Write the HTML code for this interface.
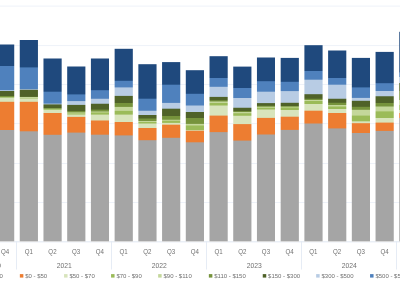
<!DOCTYPE html>
<html><head><meta charset="utf-8"><style>
html,body{margin:0;padding:0;background:#fff;width:400px;height:283px;overflow:hidden}
svg{display:block;will-change:transform}
text{font-family:"Liberation Sans",sans-serif;fill:#707070}
.q text{letter-spacing:0}
.q text{font-size:6.7px}
.l text{font-size:6px}
</style></head><body>
<svg width="400" height="283" viewBox="0 0 400 283">
<rect width="400" height="283" fill="#fff"/>
<rect x="0" y="5.6" width="400" height="1" fill="#EEF2F9"/><rect x="0" y="45.1" width="400" height="1" fill="#EEF2F9"/><rect x="0" y="84" width="400" height="1" fill="#EEF2F9"/><rect x="0" y="123.1" width="400" height="1" fill="#EEF2F9"/><rect x="0" y="163" width="400" height="1" fill="#EEF2F9"/><rect x="0" y="202" width="400" height="1" fill="#EEF2F9"/>
<mask id="c0" maskUnits="userSpaceOnUse" x="0" y="0" width="400" height="283"><rect x="-3.97" y="0" width="18.2" height="241.6" fill="#fff"/></mask><g mask="url(#c0)"><rect x="-4" y="44.5" width="20" height="197.1" fill="#1F497D"/><rect x="-4" y="66" width="20" height="175.6" fill="#4F81BD"/><rect x="-4" y="90.2" width="20" height="151.4" fill="#B8CCE4"/><rect x="-4" y="91" width="20" height="150.6" fill="#4F6228"/><rect x="-4" y="96" width="20" height="145.6" fill="#76933C"/><rect x="-4" y="97.2" width="20" height="144.4" fill="#C4D79B"/><rect x="-4" y="97.6" width="20" height="144" fill="#9BBB59"/><rect x="-4" y="97.9" width="20" height="143.7" fill="#D8E4BC"/><rect x="-4" y="101.8" width="20" height="139.8" fill="#ED7D31"/><rect x="-4" y="130" width="20" height="111.6" fill="#A5A5A5"/></g><mask id="c1" maskUnits="userSpaceOnUse" x="0" y="0" width="400" height="283"><rect x="19.75" y="0" width="18.2" height="241.6" fill="#fff"/></mask><g mask="url(#c1)"><rect x="18" y="40" width="20" height="201.6" fill="#1F497D"/><rect x="18" y="67.4" width="20" height="174.2" fill="#4F81BD"/><rect x="18" y="89.2" width="20" height="152.4" fill="#B8CCE4"/><rect x="18" y="89.8" width="20" height="151.8" fill="#4F6228"/><rect x="18" y="96.8" width="20" height="144.8" fill="#76933C"/><rect x="18" y="97" width="20" height="144.6" fill="#C4D79B"/><rect x="18" y="98.2" width="20" height="143.4" fill="#9BBB59"/><rect x="18" y="98.5" width="20" height="143.1" fill="#D8E4BC"/><rect x="18" y="101.8" width="20" height="139.8" fill="#ED7D31"/><rect x="18" y="131.3" width="20" height="110.3" fill="#A5A5A5"/></g><mask id="c2" maskUnits="userSpaceOnUse" x="0" y="0" width="400" height="283"><rect x="43.47" y="0" width="18.2" height="241.6" fill="#fff"/></mask><g mask="url(#c2)"><rect x="42" y="58.5" width="20" height="183.1" fill="#1F497D"/><rect x="42" y="91.7" width="20" height="149.9" fill="#4F81BD"/><rect x="42" y="103.6" width="20" height="138" fill="#B8CCE4"/><rect x="42" y="104.4" width="20" height="137.2" fill="#4F6228"/><rect x="42" y="108" width="20" height="133.6" fill="#76933C"/><rect x="42" y="108.8" width="20" height="132.8" fill="#C4D79B"/><rect x="42" y="109.3" width="20" height="132.3" fill="#9BBB59"/><rect x="42" y="109.9" width="20" height="131.7" fill="#D8E4BC"/><rect x="42" y="113" width="20" height="128.6" fill="#ED7D31"/><rect x="42" y="134.8" width="20" height="106.8" fill="#A5A5A5"/></g><mask id="c3" maskUnits="userSpaceOnUse" x="0" y="0" width="400" height="283"><rect x="67.19" y="0" width="18.2" height="241.6" fill="#fff"/></mask><g mask="url(#c3)"><rect x="66" y="66.5" width="20" height="175.1" fill="#1F497D"/><rect x="66" y="94.4" width="20" height="147.2" fill="#4F81BD"/><rect x="66" y="101.1" width="20" height="140.5" fill="#B8CCE4"/><rect x="66" y="104.9" width="20" height="136.7" fill="#4F6228"/><rect x="66" y="111.1" width="20" height="130.5" fill="#76933C"/><rect x="66" y="112.4" width="20" height="129.2" fill="#C4D79B"/><rect x="66" y="113.5" width="20" height="128.1" fill="#9BBB59"/><rect x="66" y="114.5" width="20" height="127.1" fill="#D8E4BC"/><rect x="66" y="116.9" width="20" height="124.7" fill="#ED7D31"/><rect x="66" y="132.6" width="20" height="109" fill="#A5A5A5"/></g><mask id="c4" maskUnits="userSpaceOnUse" x="0" y="0" width="400" height="283"><rect x="90.91" y="0" width="18.2" height="241.6" fill="#fff"/></mask><g mask="url(#c4)"><rect x="89" y="58.5" width="20" height="183.1" fill="#1F497D"/><rect x="89" y="90.2" width="20" height="151.4" fill="#4F81BD"/><rect x="89" y="98.75" width="20" height="142.85" fill="#B8CCE4"/><rect x="89" y="103.75" width="20" height="137.85" fill="#4F6228"/><rect x="89" y="109.6" width="20" height="132" fill="#76933C"/><rect x="89" y="111.5" width="20" height="130.1" fill="#C4D79B"/><rect x="89" y="112.5" width="20" height="129.1" fill="#9BBB59"/><rect x="89" y="114.6" width="20" height="127" fill="#D8E4BC"/><rect x="89" y="120.5" width="20" height="121.1" fill="#ED7D31"/><rect x="89" y="134.7" width="20" height="106.9" fill="#A5A5A5"/></g><mask id="c5" maskUnits="userSpaceOnUse" x="0" y="0" width="400" height="283"><rect x="114.63" y="0" width="18.2" height="241.6" fill="#fff"/></mask><g mask="url(#c5)"><rect x="113" y="48.8" width="20" height="192.8" fill="#1F497D"/><rect x="113" y="80.8" width="20" height="160.8" fill="#4F81BD"/><rect x="113" y="87.4" width="20" height="154.2" fill="#B8CCE4"/><rect x="113" y="95.9" width="20" height="145.7" fill="#4F6228"/><rect x="113" y="103" width="20" height="138.6" fill="#76933C"/><rect x="113" y="106.9" width="20" height="134.7" fill="#C4D79B"/><rect x="113" y="110.9" width="20" height="130.7" fill="#9BBB59"/><rect x="113" y="114.6" width="20" height="127" fill="#D8E4BC"/><rect x="113" y="122" width="20" height="119.6" fill="#ED7D31"/><rect x="113" y="135.4" width="20" height="106.2" fill="#A5A5A5"/></g><mask id="c6" maskUnits="userSpaceOnUse" x="0" y="0" width="400" height="283"><rect x="138.35" y="0" width="18.2" height="241.6" fill="#fff"/></mask><g mask="url(#c6)"><rect x="137" y="64.2" width="20" height="177.4" fill="#1F497D"/><rect x="137" y="98.7" width="20" height="142.9" fill="#4F81BD"/><rect x="137" y="110.75" width="20" height="130.85" fill="#B8CCE4"/><rect x="137" y="115" width="20" height="126.6" fill="#4F6228"/><rect x="137" y="118.5" width="20" height="123.1" fill="#76933C"/><rect x="137" y="121" width="20" height="120.6" fill="#C4D79B"/><rect x="137" y="122" width="20" height="119.6" fill="#9BBB59"/><rect x="137" y="123.5" width="20" height="118.1" fill="#D8E4BC"/><rect x="137" y="128" width="20" height="113.6" fill="#ED7D31"/><rect x="137" y="140.2" width="20" height="101.4" fill="#A5A5A5"/></g><mask id="c7" maskUnits="userSpaceOnUse" x="0" y="0" width="400" height="283"><rect x="162.07" y="0" width="18.2" height="241.6" fill="#fff"/></mask><g mask="url(#c7)"><rect x="161" y="62.1" width="20" height="179.5" fill="#1F497D"/><rect x="161" y="84.7" width="20" height="156.9" fill="#4F81BD"/><rect x="161" y="102.9" width="20" height="138.7" fill="#B8CCE4"/><rect x="161" y="108.7" width="20" height="132.9" fill="#4F6228"/><rect x="161" y="116" width="20" height="125.6" fill="#76933C"/><rect x="161" y="119.75" width="20" height="121.85" fill="#C4D79B"/><rect x="161" y="120.75" width="20" height="120.85" fill="#9BBB59"/><rect x="161" y="122.9" width="20" height="118.7" fill="#D8E4BC"/><rect x="161" y="124.7" width="20" height="116.9" fill="#ED7D31"/><rect x="161" y="137.8" width="20" height="103.8" fill="#A5A5A5"/></g><mask id="c8" maskUnits="userSpaceOnUse" x="0" y="0" width="400" height="283"><rect x="185.79" y="0" width="18.2" height="241.6" fill="#fff"/></mask><g mask="url(#c8)"><rect x="184" y="70.2" width="20" height="171.4" fill="#1F497D"/><rect x="184" y="93.8" width="20" height="147.8" fill="#4F81BD"/><rect x="184" y="105.5" width="20" height="136.1" fill="#B8CCE4"/><rect x="184" y="112" width="20" height="129.6" fill="#4F6228"/><rect x="184" y="118" width="20" height="123.6" fill="#76933C"/><rect x="184" y="123.9" width="20" height="117.7" fill="#C4D79B"/><rect x="184" y="125.5" width="20" height="116.1" fill="#9BBB59"/><rect x="184" y="130.1" width="20" height="111.5" fill="#D8E4BC"/><rect x="184" y="130.75" width="20" height="110.85" fill="#ED7D31"/><rect x="184" y="142.3" width="20" height="99.3" fill="#A5A5A5"/></g><mask id="c9" maskUnits="userSpaceOnUse" x="0" y="0" width="400" height="283"><rect x="209.51" y="0" width="18.2" height="241.6" fill="#fff"/></mask><g mask="url(#c9)"><rect x="208" y="56.2" width="20" height="185.4" fill="#1F497D"/><rect x="208" y="78" width="20" height="163.6" fill="#4F81BD"/><rect x="208" y="86.8" width="20" height="154.8" fill="#B8CCE4"/><rect x="208" y="96.9" width="20" height="144.7" fill="#4F6228"/><rect x="208" y="100.25" width="20" height="141.35" fill="#76933C"/><rect x="208" y="101.5" width="20" height="140.1" fill="#C4D79B"/><rect x="208" y="103" width="20" height="138.6" fill="#9BBB59"/><rect x="208" y="105.5" width="20" height="136.1" fill="#D8E4BC"/><rect x="208" y="115.6" width="20" height="126" fill="#ED7D31"/><rect x="208" y="132.1" width="20" height="109.5" fill="#A5A5A5"/></g><mask id="c10" maskUnits="userSpaceOnUse" x="0" y="0" width="400" height="283"><rect x="233.23" y="0" width="18.2" height="241.6" fill="#fff"/></mask><g mask="url(#c10)"><rect x="232" y="66.6" width="20" height="175" fill="#1F497D"/><rect x="232" y="88" width="20" height="153.6" fill="#4F81BD"/><rect x="232" y="98" width="20" height="143.6" fill="#B8CCE4"/><rect x="232" y="107.75" width="20" height="133.85" fill="#4F6228"/><rect x="232" y="111.1" width="20" height="130.5" fill="#76933C"/><rect x="232" y="112" width="20" height="129.6" fill="#C4D79B"/><rect x="232" y="113.25" width="20" height="128.35" fill="#9BBB59"/><rect x="232" y="115.75" width="20" height="125.85" fill="#D8E4BC"/><rect x="232" y="124.1" width="20" height="117.5" fill="#ED7D31"/><rect x="232" y="140.6" width="20" height="101" fill="#A5A5A5"/></g><mask id="c11" maskUnits="userSpaceOnUse" x="0" y="0" width="400" height="283"><rect x="256.95" y="0" width="18.2" height="241.6" fill="#fff"/></mask><g mask="url(#c11)"><rect x="255" y="57.5" width="20" height="184.1" fill="#1F497D"/><rect x="255" y="81.2" width="20" height="160.4" fill="#4F81BD"/><rect x="255" y="91.7" width="20" height="149.9" fill="#B8CCE4"/><rect x="255" y="103.1" width="20" height="138.5" fill="#4F6228"/><rect x="255" y="105.75" width="20" height="135.85" fill="#76933C"/><rect x="255" y="106.75" width="20" height="134.85" fill="#C4D79B"/><rect x="255" y="107.75" width="20" height="133.85" fill="#9BBB59"/><rect x="255" y="109.5" width="20" height="132.1" fill="#D8E4BC"/><rect x="255" y="117.9" width="20" height="123.7" fill="#ED7D31"/><rect x="255" y="134.5" width="20" height="107.1" fill="#A5A5A5"/></g><mask id="c12" maskUnits="userSpaceOnUse" x="0" y="0" width="400" height="283"><rect x="280.67" y="0" width="18.2" height="241.6" fill="#fff"/></mask><g mask="url(#c12)"><rect x="279" y="57.9" width="20" height="183.7" fill="#1F497D"/><rect x="279" y="81.8" width="20" height="159.8" fill="#4F81BD"/><rect x="279" y="91.1" width="20" height="150.5" fill="#B8CCE4"/><rect x="279" y="102.8" width="20" height="138.8" fill="#4F6228"/><rect x="279" y="106" width="20" height="135.6" fill="#76933C"/><rect x="279" y="106.75" width="20" height="134.85" fill="#C4D79B"/><rect x="279" y="107.5" width="20" height="134.1" fill="#9BBB59"/><rect x="279" y="110" width="20" height="131.6" fill="#D8E4BC"/><rect x="279" y="116.7" width="20" height="124.9" fill="#ED7D31"/><rect x="279" y="129.9" width="20" height="111.7" fill="#A5A5A5"/></g><mask id="c13" maskUnits="userSpaceOnUse" x="0" y="0" width="400" height="283"><rect x="304.39" y="0" width="18.2" height="241.6" fill="#fff"/></mask><g mask="url(#c13)"><rect x="303" y="45.2" width="20" height="196.4" fill="#1F497D"/><rect x="303" y="71" width="20" height="170.6" fill="#4F81BD"/><rect x="303" y="79.7" width="20" height="161.9" fill="#B8CCE4"/><rect x="303" y="94.2" width="20" height="147.4" fill="#4F6228"/><rect x="303" y="98.75" width="20" height="142.85" fill="#76933C"/><rect x="303" y="100" width="20" height="141.6" fill="#C4D79B"/><rect x="303" y="101" width="20" height="140.6" fill="#9BBB59"/><rect x="303" y="104" width="20" height="137.6" fill="#D8E4BC"/><rect x="303" y="110.7" width="20" height="130.9" fill="#ED7D31"/><rect x="303" y="123.5" width="20" height="118.1" fill="#A5A5A5"/></g><mask id="c14" maskUnits="userSpaceOnUse" x="0" y="0" width="400" height="283"><rect x="328.11" y="0" width="18.2" height="241.6" fill="#fff"/></mask><g mask="url(#c14)"><rect x="327" y="50.5" width="20" height="191.1" fill="#1F497D"/><rect x="327" y="78" width="20" height="163.6" fill="#4F81BD"/><rect x="327" y="84.7" width="20" height="156.9" fill="#B8CCE4"/><rect x="327" y="98.75" width="20" height="142.85" fill="#4F6228"/><rect x="327" y="102.75" width="20" height="138.85" fill="#76933C"/><rect x="327" y="105" width="20" height="136.6" fill="#C4D79B"/><rect x="327" y="106.5" width="20" height="135.1" fill="#9BBB59"/><rect x="327" y="109" width="20" height="132.6" fill="#D8E4BC"/><rect x="327" y="113" width="20" height="128.6" fill="#ED7D31"/><rect x="327" y="128.4" width="20" height="113.2" fill="#A5A5A5"/></g><mask id="c15" maskUnits="userSpaceOnUse" x="0" y="0" width="400" height="283"><rect x="351.83" y="0" width="18.2" height="241.6" fill="#fff"/></mask><g mask="url(#c15)"><rect x="350" y="57.9" width="20" height="183.7" fill="#1F497D"/><rect x="350" y="87.4" width="20" height="154.2" fill="#4F81BD"/><rect x="350" y="97.9" width="20" height="143.7" fill="#B8CCE4"/><rect x="350" y="100.8" width="20" height="140.8" fill="#4F6228"/><rect x="350" y="106.8" width="20" height="134.8" fill="#76933C"/><rect x="350" y="109.8" width="20" height="131.8" fill="#C4D79B"/><rect x="350" y="115.6" width="20" height="126" fill="#9BBB59"/><rect x="350" y="121.3" width="20" height="120.3" fill="#D8E4BC"/><rect x="350" y="123.2" width="20" height="118.4" fill="#ED7D31"/><rect x="350" y="133" width="20" height="108.6" fill="#A5A5A5"/></g><mask id="c16" maskUnits="userSpaceOnUse" x="0" y="0" width="400" height="283"><rect x="375.55" y="0" width="18.2" height="241.6" fill="#fff"/></mask><g mask="url(#c16)"><rect x="374" y="51.9" width="20" height="189.7" fill="#1F497D"/><rect x="374" y="83.2" width="20" height="158.4" fill="#4F81BD"/><rect x="374" y="91" width="20" height="150.6" fill="#B8CCE4"/><rect x="374" y="96.25" width="20" height="145.35" fill="#4F6228"/><rect x="374" y="103" width="20" height="138.6" fill="#76933C"/><rect x="374" y="106.5" width="20" height="135.1" fill="#C4D79B"/><rect x="374" y="111.4" width="20" height="130.2" fill="#9BBB59"/><rect x="374" y="118" width="20" height="123.6" fill="#D8E4BC"/><rect x="374" y="122.6" width="20" height="119" fill="#ED7D31"/><rect x="374" y="130.9" width="20" height="110.7" fill="#A5A5A5"/></g><mask id="c17" maskUnits="userSpaceOnUse" x="0" y="0" width="400" height="283"><rect x="399.27" y="0" width="18.2" height="241.6" fill="#fff"/></mask><g mask="url(#c17)"><rect x="398" y="31.8" width="20" height="209.8" fill="#1F497D"/><rect x="398" y="72.4" width="20" height="169.2" fill="#4F81BD"/><rect x="398" y="77" width="20" height="164.6" fill="#B8CCE4"/><rect x="398" y="83" width="20" height="158.6" fill="#4F6228"/><rect x="398" y="91" width="20" height="150.6" fill="#76933C"/><rect x="398" y="100" width="20" height="141.6" fill="#C4D79B"/><rect x="398" y="105" width="20" height="136.6" fill="#9BBB59"/><rect x="398" y="110" width="20" height="131.6" fill="#D8E4BC"/><rect x="398" y="113" width="20" height="128.6" fill="#ED7D31"/><rect x="398" y="118" width="20" height="123.6" fill="#A5A5A5"/></g>
<rect x="0" y="241.4" width="400" height="0.9" fill="#DDE5F0"/>
<rect x="16" y="241" width="1" height="28.5" fill="#E6ECF5"/><rect x="111" y="241" width="1" height="28.5" fill="#E6ECF5"/><rect x="206" y="241" width="1" height="28.5" fill="#E6ECF5"/><rect x="301" y="241" width="1" height="28.5" fill="#E6ECF5"/><rect x="396" y="241" width="1" height="28.5" fill="#E6ECF5"/>
<g class="q"><text x="5.03" y="254" text-anchor="middle" textLength="8.2" lengthAdjust="spacingAndGlyphs">Q4</text><text x="28.75" y="254" text-anchor="middle" textLength="8.2" lengthAdjust="spacingAndGlyphs">Q1</text><text x="52.47" y="254" text-anchor="middle" textLength="8.2" lengthAdjust="spacingAndGlyphs">Q2</text><text x="76.19" y="254" text-anchor="middle" textLength="8.2" lengthAdjust="spacingAndGlyphs">Q3</text><text x="99.91" y="254" text-anchor="middle" textLength="8.2" lengthAdjust="spacingAndGlyphs">Q4</text><text x="123.63" y="254" text-anchor="middle" textLength="8.2" lengthAdjust="spacingAndGlyphs">Q1</text><text x="147.35" y="254" text-anchor="middle" textLength="8.2" lengthAdjust="spacingAndGlyphs">Q2</text><text x="171.07" y="254" text-anchor="middle" textLength="8.2" lengthAdjust="spacingAndGlyphs">Q3</text><text x="194.79" y="254" text-anchor="middle" textLength="8.2" lengthAdjust="spacingAndGlyphs">Q4</text><text x="218.51" y="254" text-anchor="middle" textLength="8.2" lengthAdjust="spacingAndGlyphs">Q1</text><text x="242.23" y="254" text-anchor="middle" textLength="8.2" lengthAdjust="spacingAndGlyphs">Q2</text><text x="265.95" y="254" text-anchor="middle" textLength="8.2" lengthAdjust="spacingAndGlyphs">Q3</text><text x="289.67" y="254" text-anchor="middle" textLength="8.2" lengthAdjust="spacingAndGlyphs">Q4</text><text x="313.39" y="254" text-anchor="middle" textLength="8.2" lengthAdjust="spacingAndGlyphs">Q1</text><text x="337.11" y="254" text-anchor="middle" textLength="8.2" lengthAdjust="spacingAndGlyphs">Q2</text><text x="360.83" y="254" text-anchor="middle" textLength="8.2" lengthAdjust="spacingAndGlyphs">Q3</text><text x="384.55" y="254" text-anchor="middle" textLength="8.2" lengthAdjust="spacingAndGlyphs">Q4</text><text x="-30.8" y="267.8" text-anchor="middle" textLength="15.1" lengthAdjust="spacingAndGlyphs">2020</text><text x="64.2" y="267.8" text-anchor="middle" textLength="15.1" lengthAdjust="spacingAndGlyphs">2021</text><text x="159.2" y="267.8" text-anchor="middle" textLength="15.1" lengthAdjust="spacingAndGlyphs">2022</text><text x="254.2" y="267.8" text-anchor="middle" textLength="15.1" lengthAdjust="spacingAndGlyphs">2023</text><text x="349.2" y="267.8" text-anchor="middle" textLength="15.1" lengthAdjust="spacingAndGlyphs">2024</text><text x="444.2" y="267.8" text-anchor="middle" textLength="15.1" lengthAdjust="spacingAndGlyphs">2025</text></g>
<g class="l"><rect x="19.85" y="274.1" width="3.5" height="3.5" fill="#ED7D31"/><text x="25.2" y="278.2">$0 - $50</text><rect x="64.05" y="274.1" width="3.5" height="3.5" fill="#D8E4BC"/><text x="69.4" y="278.2">$50 - $70</text><rect x="111.05" y="274.1" width="3.5" height="3.5" fill="#9BBB59"/><text x="116.4" y="278.2">$70 - $90</text><rect x="158.15" y="274.1" width="3.5" height="3.5" fill="#C4D79B"/><text x="163.5" y="278.2">$90 - $110</text><rect x="208.85" y="274.1" width="3.5" height="3.5" fill="#76933C"/><text x="214.2" y="278.2">$110 - $150</text><rect x="262.75" y="274.1" width="3.5" height="3.5" fill="#4F6228"/><text x="268.1" y="278.2">$150 - $300</text><rect x="316.15" y="274.1" width="3.5" height="3.5" fill="#B8CCE4"/><text x="321.5" y="278.2">$300 - $500</text><rect x="370.05" y="274.1" width="3.5" height="3.5" fill="#4F81BD"/><text x="375.4" y="278.2">$500 - $5000</text><text x="0.9" y="267.8" text-anchor="end" style="font-size:6.7px">2020</text><text x="2.8" y="278.2" text-anchor="end">&lt; $0</text></g>
</svg>
</body></html>
